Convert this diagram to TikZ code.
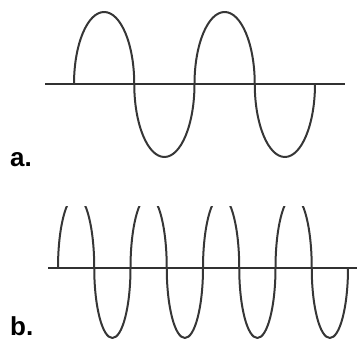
\documentclass[tikz,border=0pt]{standalone}
\usepackage{fontspec}
\setmainfont{Liberation Sans}
\definecolor{wavecol}{HTML}{363636}
\begin{document}
\begin{tikzpicture}[x=1pt,y=1pt,
  wave/.style={draw=wavecol,line width=2pt,line join=round},
  axisline/.style={draw=wavecol!90!black,line width=2.2pt},
  lbl/.style={anchor=base west,inner sep=0pt,font=\fontsize{26}{26}\selectfont\bfseries}]
\useasboundingbox (0,0) rectangle (357,342);
% panel a
\coordinate (a0) at (45,258);
\coordinate (a1) at (345,258);
\coordinate (as) at (74,258);
\draw[axisline] (a0) -- (a1);
\draw[wave] (as)
  arc[start angle=180,end angle=0,x radius=30.125,y radius=72]
  arc[start angle=180,end angle=360,x radius=30.125,y radius=73]
  arc[start angle=180,end angle=0,x radius=30.125,y radius=72]
  arc[start angle=180,end angle=360,x radius=30.125,y radius=73];
\node[lbl] (la) at (10,175) {a.};
% panel b
\coordinate (b0) at (48,74);
\coordinate (b1) at (357,74);
\coordinate (bs) at (58,74);
\draw[axisline] (b0) -- (b1);
\begin{scope}
\clip (0,0) rectangle (357,135);
\draw[wave] (bs)
  \foreach \i in {1,...,4}{
  arc[start angle=180,end angle=0,x radius=18.125,y radius=72]
  arc[start angle=180,end angle=360,x radius=18.125,y radius=70]};
\end{scope}
\node[lbl] (lb) at (10,6) {b.};
\end{tikzpicture}
\end{document}
